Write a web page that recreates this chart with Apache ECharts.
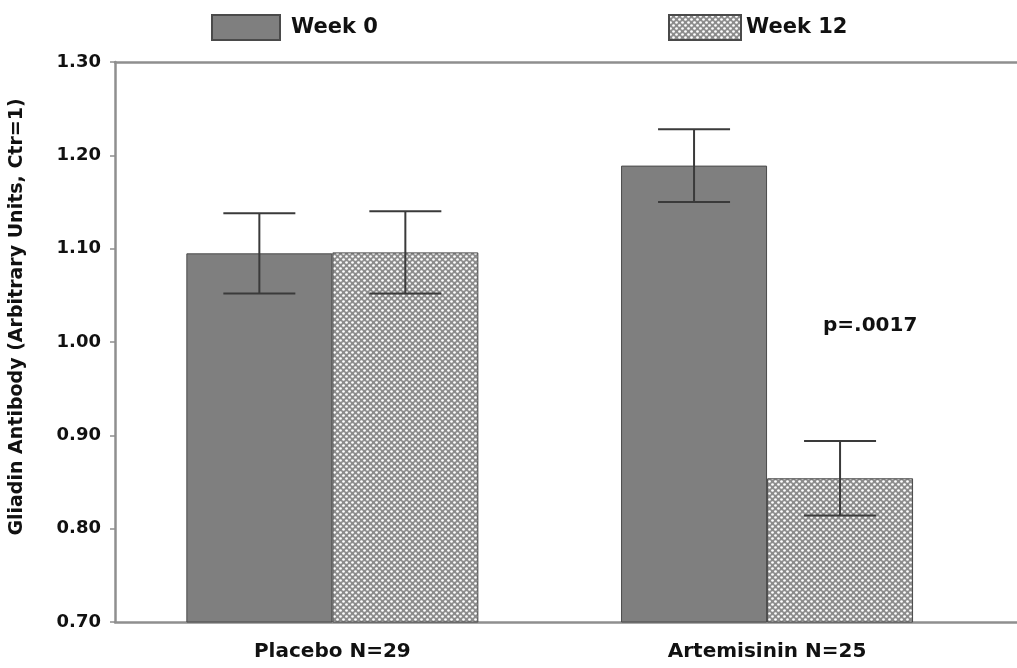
<!DOCTYPE html>
<html><head><meta charset="utf-8">
<script src="https://cdn.jsdelivr.net/npm/echarts@6/dist/echarts.min.js"></script>
<style>html,body{margin:0;padding:0;background:#fff}#c{width:1017px;height:668px}</style>
</head><body><div id="c"></div>
<script>
// ---- data ----
const categories = ['Placebo N=29', 'Artemisinin N=25'];
const seriesNames = ['Week 0', 'Week 12'];
const week0 = [1.095, 1.189];
const week12 = [1.096, 0.854];
const week0Err = [0.043, 0.039];
const week12Err = [0.044, 0.040];
const yMin = 0.70, yMax = 1.30, yStep = 0.10;
const annotation = 'p=.0017';

// ---- styling helpers ----
const FONT = 'DejaVu Sans';
const BAR_W = 146;
function makePattern() {
  const c = document.createElement('canvas');
  c.width = 6; c.height = 6;
  const g = c.getContext('2d');
  g.fillStyle = '#8c8c8c'; g.fillRect(0, 0, 6, 6);
  g.fillStyle = '#ffffff';
  [[1.5, 1.5], [4.5, 4.5]].forEach(p => { g.beginPath(); g.arc(p[0], p[1], 1.35, 0, Math.PI * 2); g.fill(); });
  return c;
}
const pattern = { image: makePattern(), repeat: 'repeat' };

const idx = categories.map((_, i) => i);
function barData(vals) { return vals.map((v, i) => [idx[i], v]); }
function errData(vals, errs) { return vals.map((v, i) => [idx[i], v - errs[i], v + errs[i]]); }

function errSeries(vals, errs, dir) {
  return {
    type: 'custom', z: 5, silent: true,
    data: errData(vals, errs),
    renderItem(params, api) {
      const x = api.value(0);
      const lo = api.coord([x, api.value(1)]);
      const hi = api.coord([x, api.value(2)]);
      const cx = lo[0] + dir * BAR_W / 2;
      const hw = 36;
      const st = { stroke: '#3a3a3a', lineWidth: 2 };
      return { type: 'group', children: [
        { type: 'line', shape: { x1: cx, y1: hi[1], x2: cx, y2: lo[1] }, style: st },
        { type: 'line', shape: { x1: cx - hw, y1: hi[1], x2: cx + hw, y2: hi[1] }, style: st },
        { type: 'line', shape: { x1: cx - hw, y1: lo[1], x2: cx + hw, y2: lo[1] }, style: st }
      ]};
    }
  };
}

const chart = echarts.init(document.getElementById('c'), null, { renderer: 'canvas' });
const axisLineStyle = { color: '#8f8f8f', width: 2.5 };
const legendText = { fontFamily: FONT, fontSize: 21, fontWeight: 'bold', color: '#111' };
chart.setOption({
  animation: false,
  backgroundColor: '#fff',
  grid: { left: 115, right: 0, top: 62, bottom: 46 },
  title: { text: annotation, left: 818, top: 311, textStyle: { fontFamily: FONT, fontSize: 20, fontWeight: 'bold', color: '#111' } },
  legend: [
    { data: [seriesNames[0]], left: 211, top: 14, padding: 0, itemWidth: 68, itemHeight: 25, icon: 'rect',
      textStyle: Object.assign({}, legendText, { padding: [0, 0, 0, 6] }) },
    { data: [seriesNames[1]], left: 668, top: 14, padding: 0, itemWidth: 72, itemHeight: 25, icon: 'rect', textStyle: legendText }
  ],
  xAxis: [
    { type: 'value', min: -0.5, max: 1.575, position: 'bottom',
      axisLine: { show: true, lineStyle: axisLineStyle, onZero: false },
      axisTick: { show: false }, splitLine: { show: false },
      axisLabel: { customValues: idx, formatter: v => categories[Math.round(v)] || '', margin: 20,
        fontFamily: FONT, fontSize: 20, fontWeight: 'bold', color: '#111' } },
    { type: 'value', min: -0.5, max: 1.575, position: 'top',
      axisLine: { show: true, lineStyle: axisLineStyle, onZero: false },
      axisTick: { show: false }, splitLine: { show: false }, axisLabel: { show: false } }
  ],
  yAxis: {
    type: 'value', min: yMin, max: yMax, interval: yStep,
    name: 'Gliadin Antibody (Arbitrary Units, Ctr=1)', nameLocation: 'middle', nameGap: 88, nameRotate: 90,
    nameTextStyle: { fontFamily: FONT, fontSize: 19, fontWeight: 'bold', color: '#111', padding: [0, 0, 0, 50] },
    axisLine: { show: true, lineStyle: axisLineStyle, onZero: false },
    axisTick: { show: true, length: 5, lineStyle: { color: '#8f8f8f', width: 1.5 } },
    splitLine: { show: false },
    axisLabel: { formatter: v => v.toFixed(2), margin: 14, fontFamily: FONT, fontSize: 18, fontWeight: 'bold', color: '#111' }
  },
  series: [
    { name: seriesNames[0], type: 'bar', barWidth: BAR_W, barGap: '0%', data: barData(week0),
      itemStyle: { color: '#7f7f7f', borderColor: '#4a4a4a', borderWidth: 1 } },
    { name: seriesNames[1], type: 'bar', barWidth: BAR_W, barGap: '0%', data: barData(week12),
      itemStyle: { color: pattern, borderColor: '#4a4a4a', borderWidth: 1 } },
    errSeries(week0, week0Err, -1),
    errSeries(week12, week12Err, 1)
  ]
});
</script></body></html>
